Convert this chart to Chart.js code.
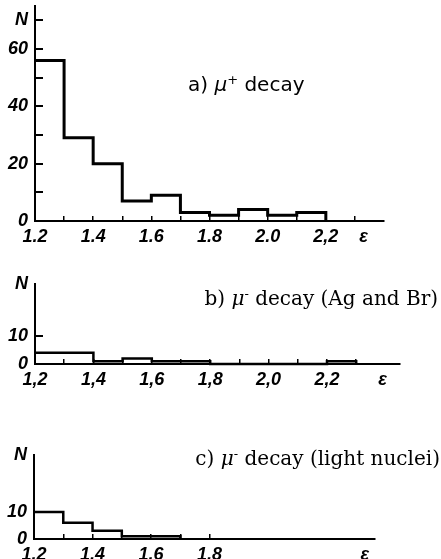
<!DOCTYPE html>
<html>
<head>
<meta charset="utf-8">
<script src="https://cdn.jsdelivr.net/npm/chart.js@4.4.1/dist/chart.umd.min.js"></script>
<style>
  body { margin: 0; background: #fff; width: 441px; height: 559px; position: relative; overflow: hidden; }
  canvas { position: absolute; left: 0; }
  .title { position: absolute; white-space: nowrap; color: #000; line-height: 1; }
  .title sup { font-size: 65%; vertical-align: 0.55em; line-height: 0; }
  .sans { font-family: "DejaVu Sans", sans-serif; font-size: 20px; }
  .serif { font-family: "DejaVu Serif", serif; font-size: 20px; }
</style>
</head>
<body>
<canvas id="chartA" width="441" height="250" style="top:0"></canvas>
<canvas id="chartB" width="441" height="130" style="top:260px"></canvas>
<canvas id="chartC" width="441" height="119" style="top:440px"></canvas>

<div class="title sans" style="left:188px;top:74px">a) <i>μ</i><sup>+</sup> decay</div>
<div class="title serif" style="right:3px;top:288px">b) <i>μ</i><sup>-</sup> decay (Ag and Br)</div>
<div class="title serif" style="right:1px;top:448px">c) <i>μ</i><sup>-</sup> decay (light nuclei)</div>

<script>
// bin edges of the energy histogram (epsilon), step 0.1
const binEdges = [1.2, 1.3, 1.4, 1.5, 1.6, 1.7, 1.8, 1.9, 2.0, 2.1, 2.2, 2.3];

// counts per bin
const countsA = [56, 29, 20, 7, 9, 3, 2, 4, 2, 3];        // mu+ decay
const countsB = [4, 4, 1, 2, 1, 1, 0, 0, 0, 0, 1];        // mu- decay, Ag and Br
const countsC = [10, 6, 3, 1, 1];                          // mu- decay, light nuclei

// x ticks (every 0.1) and labels
const xTicksA = [1.2, 1.3, 1.4, 1.5, 1.6, 1.7, 1.8, 1.9, 2.0, 2.1, 2.2, 2.3];
const xLabelsA = ["1.2", "", "1.4", "", "1.6", "", "1.8", "", "2.0", "", "2,2", ""];
const xTicksB = [1.2, 1.3, 1.4, 1.5, 1.6, 1.7, 1.8, 1.9, 2.0, 2.1, 2.2, 2.3];
const xLabelsB = ["1,2", "", "1,4", "", "1,6", "", "1,8", "", "2,0", "", "2,2", ""];
const xTicksC = [1.2, 1.3, 1.4, 1.5, 1.6, 1.7, 1.8];
const xLabelsC = ["1.2", "", "1.4", "", "1.6", "", "1.8"];

// y ticks and labels
const yTicksA = [0, 10, 20, 30, 40, 50, 60, 70];
const yLabelsA = ["0", "", "20", "", "40", "", "60", "N"];
const yTicksB = [0, 10];
const yLabelsB = ["0", "10"];
const yTicksC = [0, 10];
const yLabelsC = ["0", "10"];

const tickFont = { family: "'Liberation Sans', sans-serif", size: 18, style: "italic", weight: "bold" };

function toSteps(counts) {
  const pts = counts.map((c, i) => ({ x: binEdges[i], y: c }));
  pts.push({ x: binEdges[counts.length], y: 0 });
  return pts;
}

function noPadding(s) {
  s.paddingTop = 0;
  s.paddingBottom = 0;
  s.paddingLeft = 0;
  s.paddingRight = 0;
}

function makeChart(id, o) {
  // extra label ticks: epsilon on x, N on y (no tick mark)
  const xt = o.xTicks.concat([o.epsAt]);
  const xl = o.xLabels.concat(["ε"]);
  const yt = o.nAt ? o.yTicks.concat([o.nAt]) : o.yTicks;
  const yl = o.nAt ? o.yLabels.concat(["N"]) : o.yLabels;

  return new Chart(document.getElementById(id), {
    type: "line",
    data: {
      datasets: [{
        data: toSteps(o.counts),
        stepped: "before",
        borderColor: "#000",
        borderWidth: o.lineWidth,
        pointRadius: 0,
        fill: false,
        clip: false,
      }],
    },
    options: {
      responsive: false,
      animation: false,
      events: [],
      plugins: { legend: { display: false }, tooltip: { enabled: false } },
      layout: { padding: { left: 0, top: o.top, right: 441 - o.right, bottom: 0 } },
      scales: {
        x: {
          type: "linear",
          min: 1.2,
          max: o.xMax,
          afterBuildTicks: (s) => { s.ticks = xt.map((v) => ({ value: v })); },
          afterFit: (s) => { s.height = o.xAxisH; noPadding(s); },
          ticks: {
            autoSkip: false,
            maxRotation: 0,
            padding: 10,
            color: "#000",
            font: tickFont,
            callback: (v, i) => xl[i],
          },
          grid: {
            drawOnChartArea: false,
            tickLength: -5,
            lineWidth: 1.5,
            color: (ctx) => (ctx.index === xt.length - 1 ? "rgba(0,0,0,0)" : "#000"),
          },
          border: { color: "#000", width: 2 },
        },
        y: {
          min: 0,
          max: o.yMax,
          afterBuildTicks: (s) => { s.ticks = yt.map((v) => ({ value: v })); },
          afterFit: (s) => { s.width = o.left; noPadding(s); },
          ticks: {
            autoSkip: false,
            padding: 15,
            color: "#000",
            font: tickFont,
            callback: (v, i) => yl[i],
          },
          grid: {
            drawOnChartArea: false,
            tickLength: -8,
            lineWidth: 2,
            color: (ctx) => (o.yMarks[ctx.index] ? "#000" : "rgba(0,0,0,0)"),
          },
          border: { color: "#000", width: 2 },
        },
      },
    },
  });
}

makeChart("chartA", {
  counts: countsA, lineWidth: 3,
  xTicks: xTicksA, xLabels: xLabelsA, yTicks: yTicksA, yLabels: yLabelsA,
  yMarks: [false, true, true, true, true, true, true, true],
  epsAt: 2.33, nAt: null,
  xMax: 2.4, yMax: 75, left: 35, right: 384, top: 6, xAxisH: 29,
});

makeChart("chartB", {
  counts: countsB, lineWidth: 2.5,
  xTicks: xTicksB, xLabels: xLabelsB, yTicks: yTicksB, yLabels: yLabelsB,
  yMarks: [false, true, false],
  epsAt: 2.39, nAt: 28.5,
  xMax: 2.45, yMax: 28.5, left: 35, right: 400, top: 24, xAxisH: 26,
});

makeChart("chartC", {
  counts: countsC, lineWidth: 2.5,
  xTicks: xTicksC, xLabels: xLabelsC, yTicks: yTicksC, yLabels: yLabelsC,
  yMarks: [false, true, false],
  epsAt: 2.33, nAt: 31,
  xMax: 2.365, yMax: 31, left: 34, right: 375, top: 15, xAxisH: 20,
});
</script>
</body>
</html>
